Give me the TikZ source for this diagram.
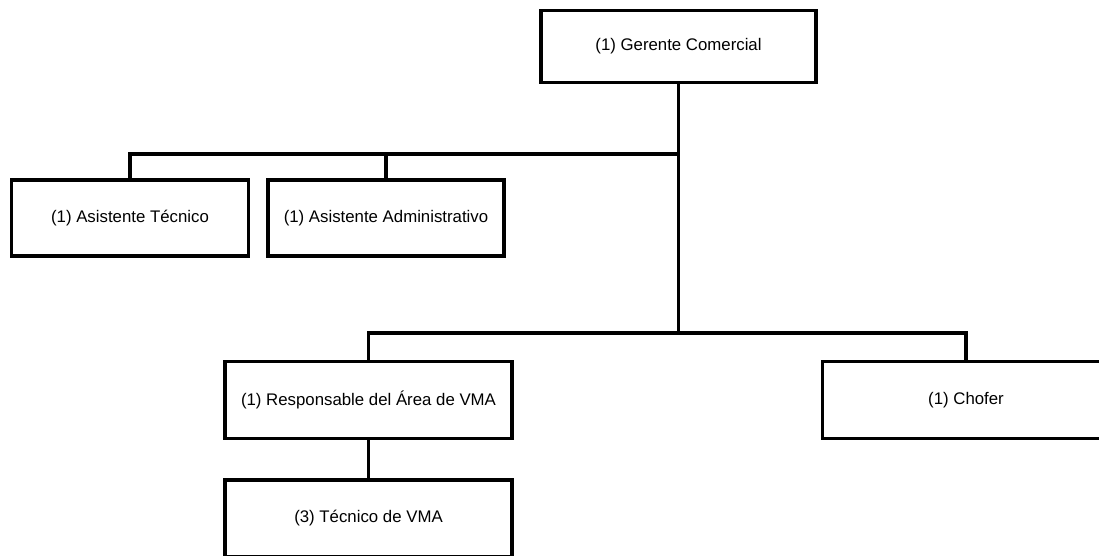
\documentclass[tikz,border=0pt]{standalone}
\usepackage{fontspec}
\setmainfont{Liberation Sans}
\begin{document}
\begin{tikzpicture}[x=1pt,y=-1pt,
  unit/.style={draw=black,line width=3.4pt,rectangle,inner sep=0pt,
    minimum width=#1,minimum height=76pt,font=\fontsize{16.8}{18}\selectfont},
  unit/.default=236pt,
  conn/.style={draw=black,line width=3.4pt}]
  \clip (0,0) rectangle (1099,555);
  \fill[white] (0,0) rectangle (1099,555);

  % boxes of the chart
  \node[unit=275pt,minimum height=72pt] (ger) at (678.5,46.5) {(1) Gerente Comercial};
  \node[unit=237pt] (at) at (130,218) {(1) Asistente Técnico};
  \node[unit=236pt] (ad) at (386,218) {(1) Asistente Administrativo};
  \node[unit=287pt,minimum height=77pt] (resp) at (368.5,400) {(1) Responsable del Área de VMA};
  \node[unit=287pt,minimum height=77pt] (chof) at (966,400) {(1) Chofer};
  \node[unit=287pt,minimum height=77pt] (tec) at (368.5,518.5) {(3) Técnico de VMA};

  % bus levels
  \coordinate (b1) at (0,154);
  \coordinate (b2) at (0,333);

  % connectors
  \draw[conn] (ger.south) -- (ger.south |- b2);
  \draw[conn] (at.north) -- (at.north |- b1) -| (ger.south);
  \draw[conn] (ad.north) -- (ad.north |- b1);
  \draw[conn] (resp.north) -- (resp.north |- b2) -| (chof.north);
  \draw[conn] (resp.south) -- (tec.north);
\end{tikzpicture}
\end{document}
